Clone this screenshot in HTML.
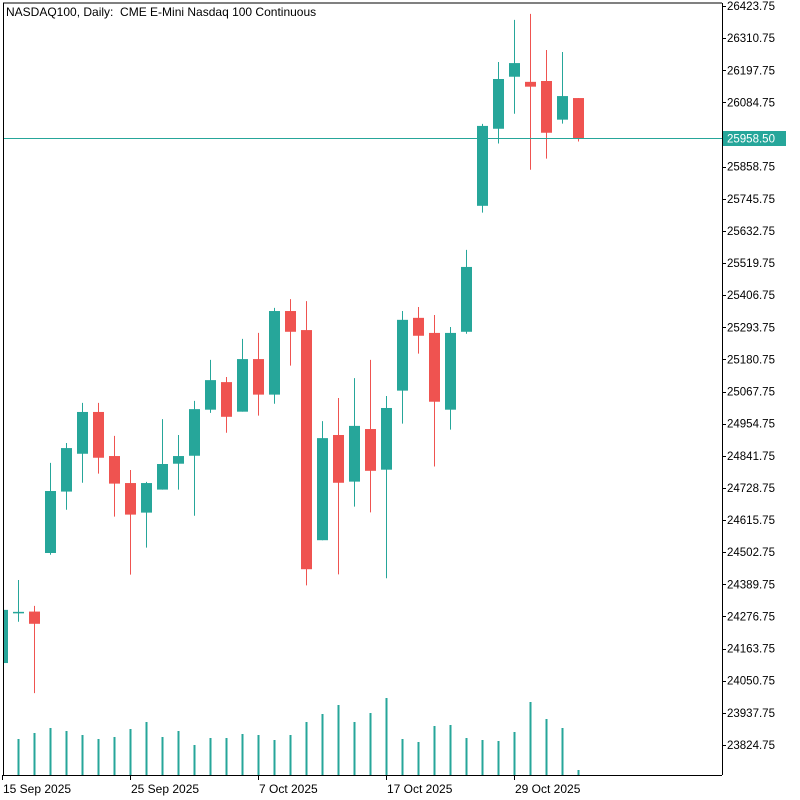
<!DOCTYPE html>
<html><head><meta charset="utf-8"><style>
html,body{margin:0;padding:0;background:#fff;}
svg{display:block;font-family:"Liberation Sans","DejaVu Sans",sans-serif;}
</style></head><body>
<svg id="chart" width="800" height="800" viewBox="0 0 800 800" xmlns="http://www.w3.org/2000/svg">
<rect x="0" y="0" width="800" height="800" fill="#fff"/>
<g id="vols"></g>
<g id="candles"></g>
<line x1="3" y1="3" x2="722" y2="3" stroke="#000" stroke-width="1"/>
<line x1="3.5" y1="3" x2="3.5" y2="775" stroke="#000" stroke-width="1"/>
<line x1="722.5" y1="3" x2="722.5" y2="775" stroke="#000" stroke-width="1"/>
<line x1="3" y1="775.5" x2="722" y2="775.5" stroke="#000" stroke-width="1"/>
<g id="yaxis"></g>
<g id="xaxis"></g>
<text x="6" y="16" font-size="12" fill="#000" style="white-space:pre">NASDAQ100, Daily:  CME E-Mini Nasdaq 100 Continuous</text>
<g id="lastprice"></g>
</svg>
<script>
const opens  = [24113,24292,24294,24500,24716,24849,24996,24841,24746,24642,24723,24814,24842,25004,25101,24997,25182,25057,25351,25284,24545,24915,24751,24936,24793,25071,25327,25274,25004,25278,25721,25992,26175,26157,26160,26024,26100];
const highs  = [24300,24405,24314,24817,24887,25028,25028,24912,24792,24750,24971,24915,25035,25179,25119,25253,25274,25362,25393,25386,24964,25045,25115,25179,25052,25351,25365,25337,25295,25566,26009,26227,26375,26396,26269,26262,26100];
const lows   = [24113,24258,24007,24494,24652,24747,24779,24628,24424,24519,24723,24723,24631,24993,24923,24997,24983,25025,25159,24386,24545,24425,24663,24643,24411,24955,25201,24804,24934,25271,25697,25940,26045,25848,25887,26010,25947];
const closes = [24300,24293,24251,24718,24869,24996,24835,24744,24635,24746,24813,24841,25006,25108,24979,25182,25057,25351,25278,24443,24904,24747,24947,24789,25010,25320,25264,25032,25274,25506,26002,26167,26223,26140,25978,26107,25958.5];
const volumes = [null,360,420,470,440,400,360,380,460,530,380,440,300,370,370,410,400,350,400,530,610,700,530,620,770,360,330,490,500,370,350,340,430,730,560,470,50];
const priceTicks = [26423.75,26310.75,26197.75,26084.75,25971.75,25858.75,25745.75,25632.75,25519.75,25406.75,25293.75,25180.75,25067.75,24954.75,24841.75,24728.75,24615.75,24502.75,24389.75,24276.75,24163.75,24050.75,23937.75,23824.75];
const dateLabels = ["15 Sep 2025","25 Sep 2025","7 Oct 2025","17 Oct 2025","29 Oct 2025"];
const dateIndex = [0,8,16,24,32];
const lastPrice = 25958.50;

const NS="http://www.w3.org/2000/svg";
const GREEN="#26a69a", RED="#ef5350";
function xAt(i){return 2.3+16*i;}
function yAt(p){return 6+(26423.75-p)*0.28434;}
function vH(v){return v*0.1;}
function mk(tag,attrs,parent){const e=document.createElementNS(NS,tag);for(const k in attrs)e.setAttribute(k,attrs[k]);parent.appendChild(e);return e;}

const cg=document.getElementById('candles');
const clipDef=mk('defs',{},document.getElementById('chart'));
const cp=mk('clipPath',{id:'plotclip'},clipDef);
mk('rect',{x:4,y:3,width:718,height:772},cp);
cg.setAttribute('clip-path','url(#plotclip)');
for(let i=0;i<opens.length;i++){
  const o=opens[i],h=highs[i],l=lows[i],c=closes[i];
  const col=c>=o?GREEN:RED;
  const g=mk('g',{},cg);
  
  
  const cx=Math.round(xAt(i))+0.5;
  const w=mk('line',{x1:cx,x2:cx,y1:yAt(h),y2:yAt(l),stroke:col,'stroke-width':1},g);
  
  
  const top=yAt(Math.max(o,c)),bot=yAt(Math.min(o,c));
  const b=mk('rect',{x:cx-5.5,y:top,width:11,height:Math.max(1.5,bot-top),fill:col},g);
  
  
}
const vg=document.getElementById('vols');
for(let i=0;i<volumes.length;i++){
  if(volumes[i]==null)continue;
  const cx=Math.round(xAt(i));
  const r=mk('rect',{x:cx-0.5,y:775-vH(volumes[i]),width:2,height:vH(volumes[i]),fill:GREEN},vg);
  
  
}
const ya=document.getElementById('yaxis');
const lastY=yAt(lastPrice);
priceTicks.forEach(p=>{
  const y=yAt(p);
  const t=mk('line',{x1:722,x2:726,y1:Math.round(y)+0.5,y2:Math.round(y)+0.5,stroke:'#000'},ya);
  
  
  if(Math.abs(y-lastY)<12)return;
  const tx=mk('text',{x:727,y:y+4,'font-size':11.5,fill:'#000'},ya);
  tx.textContent=p.toFixed(2);
  
  
});
const xa=document.getElementById('xaxis');
dateLabels.forEach((d,k)=>{
  const x=Math.round(xAt(dateIndex[k]))+0.5;
  const t=mk('line',{x1:x,x2:x,y1:775,y2:780,stroke:'#000'},xa);
  
  
  const tx=mk('text',{x:x+0.5,y:793,'font-size':12,fill:'#000'},xa);
  tx.textContent=d;
  
  
});
const lp=document.getElementById('lastprice');
const ly=Math.round(lastY)+0.5;
const ll=mk('line',{x1:4,x2:722,y1:ly,y2:ly,stroke:GREEN,'stroke-width':1},lp);


const lb=mk('rect',{x:723,y:ly-7.5,width:63,height:15,fill:GREEN},lp);


const lt=mk('text',{x:727,y:ly+4,'font-size':11.5,fill:'#fff'},lp);
lt.textContent=lastPrice.toFixed(2);


</script>
</body></html>
